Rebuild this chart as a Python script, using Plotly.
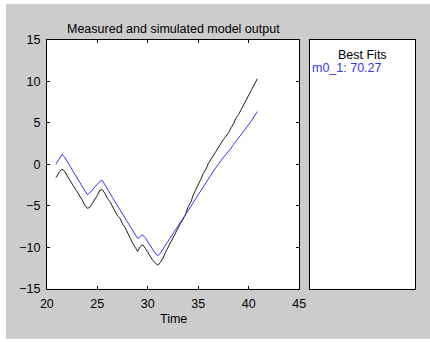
import plotly.graph_objects as go

time = [20.9, 21.0, 21.25, 21.5, 21.75, 22.0, 22.25, 22.5, 22.75, 23.0, 23.25, 23.5, 23.75,
        24.0, 24.25, 24.5, 24.75, 25.0, 25.25, 25.5, 25.75, 26.0, 26.25, 26.5, 26.75,
        27.0, 27.25, 27.5, 27.75, 28.0, 28.25, 28.5, 28.75, 29.0, 29.25, 29.5, 29.75,
        30.0, 30.25, 30.5, 30.75, 31.0, 31.25, 31.5, 31.75, 32.0, 32.25, 32.5, 32.75,
        33.0, 33.25, 33.5, 33.75, 34.0, 34.25, 34.5, 34.75, 35.0, 35.25, 35.5, 35.75,
        36.0, 36.25, 36.5, 36.75, 37.0, 37.25, 37.5, 37.75, 38.0, 38.25, 38.5, 38.75,
        39.0, 39.25, 39.5, 39.75, 40.0, 40.25, 40.5, 40.75, 40.85]

measured = [-1.6, -1.4, -0.9, -0.6, -0.8, -1.35, -1.9, -2.3, -2.85, -3.3, -3.9, -4.3, -4.9,
            -5.3, -5.2, -4.7, -4.3, -3.75, -3.1, -3.05, -3.5, -4.1, -4.5, -5.1, -5.5,
            -6.2, -6.5, -7.2, -7.6, -8.3, -8.8, -9.5, -10.0, -10.5, -9.9, -9.7, -10.1,
            -10.6, -11.0, -11.6, -11.9, -12.15, -11.8, -11.3, -10.6, -10.0, -9.5, -8.8, -8.2,
            -7.6, -7.1, -6.6, -6.0, -5.1, -4.6, -3.7, -3.1, -2.4, -1.8, -1.1, -0.6,
            0.1, 0.6, 1.1, 1.5, 2.0, 2.6, 3.0, 3.4, 3.8, 4.4, 4.9, 5.6,
            6.0, 6.6, 7.2, 7.7, 8.3, 8.9, 9.4, 10.0, 10.3]

simulated = [0.0, 0.2, 0.8, 1.2, 0.9, 0.35, -0.15, -0.65, -1.15, -1.65, -2.15, -2.65, -3.2,
             -3.65, -3.45, -3.1, -2.75, -2.4, -2.05, -1.95, -2.5, -3.0, -3.5, -4.0, -4.5,
             -5.0, -5.5, -6.0, -6.5, -7.0, -7.5, -8.0, -8.5, -8.95, -8.7, -8.5, -8.85,
             -9.3, -9.75, -10.25, -10.75, -11.0, -10.7, -10.2, -9.75, -9.3, -8.85, -8.4, -7.95,
             -7.45, -7.0, -6.5, -6.05, -5.55, -5.1, -4.6, -4.15, -3.65, -3.2, -2.7, -2.25,
             -1.75, -1.3, -0.8, -0.35, 0.1, 0.45, 0.85, 1.2, 1.55, 1.95, 2.4, 2.8,
             3.25, 3.65, 4.05, 4.35, 4.75, 5.2, 5.7, 6.15, 6.35]

x_ticks = [20, 25, 30, 35, 40, 45]
y_ticks = [-15, -10, -5, 0, 5, 10, 15]

title_text = "Measured and simulated model output"
x_label = "Time"
fits_title = "Best Fits"
fits_entry = "m0_1: 70.27"

# figure (the grey window) sits at (6, 4) on a white page
OX, OY = 6, 4
W, H = 424, 335
FONT = "Liberation Sans, Arial, Helvetica, sans-serif"
BLUE = "#3535ff"

fig = go.Figure()
fig.add_trace(go.Scatter(x=time, y=measured, mode="lines",
                         line=dict(color="#1e1e1e", width=1), showlegend=False,
                         xaxis="x", yaxis="y"))
fig.add_trace(go.Scatter(x=time, y=simulated, mode="lines",
                         line=dict(color=BLUE, width=1), showlegend=False,
                         xaxis="x", yaxis="y"))
# empty trace so the "Best Fits" panel axes get drawn
fig.add_trace(go.Scatter(x=[None], y=[None], mode="lines", showlegend=False,
                         hoverinfo="skip", xaxis="x2", yaxis="y2"))

def px_x(p):
    return (p - OX) / W

def px_y(p):
    return (H - (p - OY)) / H

fig.update_layout(
    width=W, height=H,
    margin=dict(l=0, r=0, t=0, b=0),
    paper_bgcolor="#cccccc",
    plot_bgcolor="white",
    font=dict(family=FONT, size=12, color="black"),
    xaxis=dict(domain=[px_x(41), px_x(302)], range=[20, 45], tickvals=x_ticks,
               ticks="inside", ticklen=3, tickcolor="black", showline=True,
               linecolor="black", linewidth=1, mirror="ticks", showgrid=False,
               zeroline=False, anchor="y", tickfont=dict(size=12.5),
               ticklabelstandoff=3),
    yaxis=dict(domain=[px_y(294), px_y(34)], range=[-15, 15], tickvals=y_ticks,
               ticks="inside", ticklen=3, tickcolor="black", showline=True,
               linecolor="black", linewidth=1, mirror="ticks", showgrid=False,
               zeroline=False, anchor="x", tickfont=dict(size=12.5),
               ticklabelstandoff=3),
    xaxis2=dict(domain=[px_x(313.3), px_x(421.7)], range=[0, 1], showticklabels=False,
                ticks="", showline=True, linecolor="black", linewidth=1, mirror=True,
                showgrid=False, zeroline=False, anchor="y2"),
    yaxis2=dict(domain=[px_y(294), px_y(34)], range=[0, 1], showticklabels=False,
                ticks="", showline=True, linecolor="black", linewidth=1, mirror=True,
                showgrid=False, zeroline=False, anchor="x2"),
    annotations=[
        dict(text=title_text, xref="paper", yref="paper", x=px_x(171.5), y=px_y(22.5),
             showarrow=False, xanchor="center", yanchor="middle", font=dict(size=12.5)),
        dict(text=x_label, xref="paper", yref="paper", x=px_x(171.5), y=px_y(325),
             showarrow=False, xanchor="center", yanchor="middle", font=dict(size=12.5)),
        dict(text=fits_title, xref="paper", yref="paper", x=px_x(367.5), y=px_y(49.5),
             showarrow=False, xanchor="center", yanchor="middle", font=dict(size=12.5)),
        dict(text=fits_entry, xref="paper", yref="paper", x=px_x(313.5), y=px_y(64),
             showarrow=False, xanchor="left", yanchor="middle",
             font=dict(size=12.5, color=BLUE)),
    ],
)

fig.write_html("out.html",
               config={"displayModeBar": False, "staticPlot": True},
               post_script="document.documentElement.style.background='white';"
                           "document.body.style.margin='0px';"
                           "var g=document.getElementsByClassName('plotly-graph-div')[0];"
                           "g.style.marginLeft='%dpx';g.style.marginTop='%dpx';" % (OX, OY))
